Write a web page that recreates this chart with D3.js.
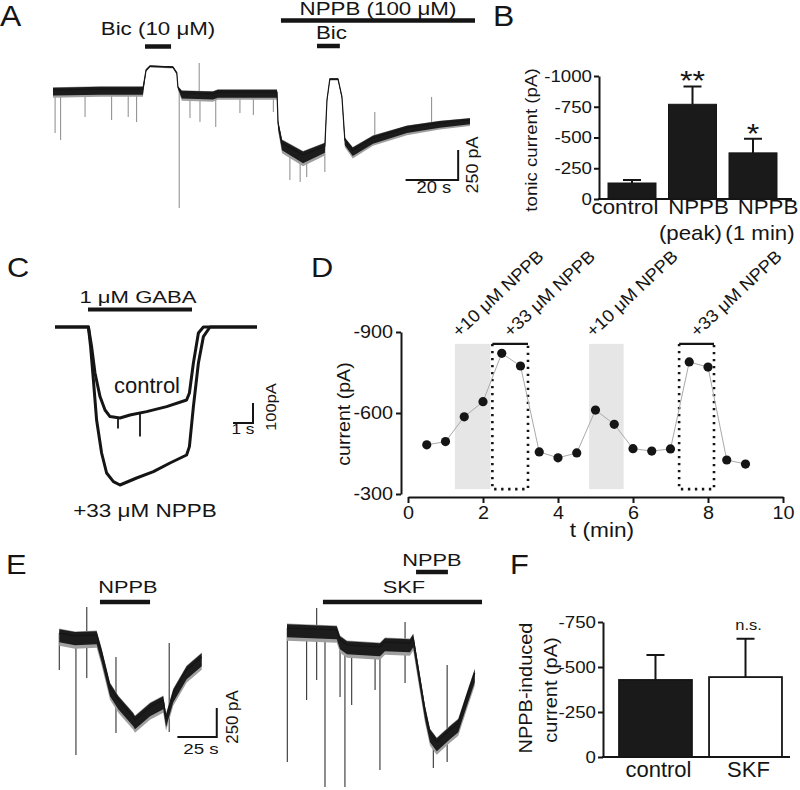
<!DOCTYPE html>
<html>
<head>
<meta charset="utf-8">
<script src="https://cdn.jsdelivr.net/npm/d3@7"></script>
<style>
  body { margin: 0; background: #fff; }
  svg text { font-family: "Liberation Sans", Arial, Helvetica, sans-serif; fill: #151515; }
</style>
</head>
<body>
<svg width="800" height="790"></svg>
<script>
// ---- panel A : whole-cell trace (time s, current pA, noise half-width pA)
const aTime    = [0, 17.9, 34.2, 35.4, 36.9, 45.6, 47.1, 47.5, 49, 60.8, 62.7, 85.2, 85.6, 87.1, 95.1, 103.4, 104.2, 105.3, 108.4, 109.9, 111, 114, 121.7, 134.6, 147.1, 158.6]
const aCurrent = [0, 8, 8, 167, 200, 192, 142, 25, -25, -33, -17, -17, -275, -441, -541, -466, -83, 92, 92, -58, -416, -500, -400, -316, -275, -250]
const aNoise   = [65, 65, 65, 15, 12, 12, 15, 20, 65, 65, 65, 65, 65, 85, 95, 80, 20, 12, 12, 20, 60, 70, 65, 60, 55, 50]
// spikes: [time, from pA, to pA]
const aSpikes = [[0.8, 0, -358], [2.9, 0, -416], [12.2, 0, -225], [22.3, 0, -250], [28.6, 0, -225], [31.8, 0, -267],
  [48, 0, -983], [52.1, -25, -233], [55.6, -25, 225], [55.9, -25, -266], [61.9, -33, -308], [71.1, -17, -192],
  [76.2, -17, -208], [83.8, -17, -183], [90.1, -500, -750], [94, -540, -766], [96.5, -540, -725],
  [103.4, -466, -683], [122.4, -400, -183], [144, -280, -58]]
const aBic1 = [35, 44.9]
const aNppb = [86.7, 160.5]
const aBic2 = [100.4, 109.1]

// ---- panel B : tonic current
const bCats  = ['control', 'NPPB\n(peak)', 'NPPB\n(1 min)']
const bMean  = [-130, -770, -375]
const bSem   = [25, 145, 115]
const bStars = ['', '**', '*']
const bTicks = [0, -250, -500, -750, -1000]

// ---- panel C : GABA responses (time s, current pA)
const cCtrlTime    = [0, 1.67, 1.83, 2.0, 2.25, 2.5, 2.75, 3.25, 3.75, 4.58, 5.58, 6.58, 6.72, 6.92, 7.17, 7.42, 10.1]
const cCtrlCurrent = [0, 0, -98, -230, -348, -415, -448, -455, -440, -423, -398, -365, -330, -180, -30, 0, 0]
const cCtrlSpikes  = [[3.15, -452, -507], [4.25, -432, -548]]
const cNppbTime    = [0, 1.67, 1.78, 1.92, 2.08, 2.33, 2.58, 2.92, 3.25, 4.08, 4.92, 5.75, 6.58, 6.72, 6.92, 7.17, 7.42, 7.75, 10.1]
const cNppbCurrent = [0, 0, -98, -265, -465, -630, -730, -773, -790, -755, -723, -680, -640, -598, -398, -180, -48, 0, 0]
const cGaba = [1.65, 6.85]

// ---- panel D : time course
const dTime    = [0.5, 1, 1.5, 2, 2.5, 3, 3.5, 4, 4.5, 5, 5.5, 6, 6.5, 7, 7.5, 8, 8.5, 9]
const dCurrent = [-482, -494, -586, -642, -821, -774, -456, -434, -452, -611, -558, -468, -459, -467, -789, -770, -426, -411]
const d10 = [[1.25, 2.2], [4.83, 5.75]]
const d33 = [[2.25, 3.2], [7.23, 8.16]]
const dYTicks = [-900, -600, -300]
const dXTicks = [0, 2, 4, 6, 8, 10]

// ---- panel E : NPPB with / without SKF
const eLeftTime    = [0, 10, 23.8, 27, 32.3, 37.6, 47.1, 48.2, 57.8, 66.2, 68, 72.6, 81.1, 90.7]
const eLeftCurrent = [34, 9, 17, -138, -430, -542, -688, -714, -602, -542, -697, -482, -284, -172]
const eLeftSpikes  = [[0, 34, -284], [10.6, 9, -1015], [17.5, 258, -353], [36.1, -172, -826], [70, -52, -817]]
const eRightTime    = [0, 31.7, 33.8, 38.2, 59.2, 62.4, 78.3, 80.4, 83.4, 87.9, 91.1, 95.4, 103.8, 109.1, 114.5, 119.6]
const eRightCurrent = [77, 60, -26, -69, -86, -43, -52, -9, -258, -628, -826, -903, -800, -740, -516, -310]
const eRightSpikes  = [[0.2, 77, -1075], [12.5, 60, -542], [18.9, 249, -370], [24.2, 60, -1290], [33.8, -26, -516],
  [36.9, -60, -1290], [41.2, -69, -585], [56.1, -86, -456], [59.2, -86, -1144], [75.2, 129, -396],
  [93.2, -870, -1127], [102, -241, -1075]]
const eLeftNppb  = [25.9, 57.8]
const eRightSkf  = [22.9, 124.2]
const eRightNppb = [82.2, 102.5]

// ---- panel F : NPPB-induced current
const fCats  = ['control', 'SKF']
const fMean  = [-428, -444]
const fSem   = [139, 213]
const fNote  = ['', 'n.s.']
const fTicks = [0, -250, -500, -750]

const svg = d3.select('svg')
const ink = '#151515'

const stretchText = (t, k) => {
  const w = t.node().getComputedTextLength()
  t.attr('textLength', w * k).attr('lengthAdjust', 'spacingAndGlyphs')
}

const txt = (g, x, y, s, size, o = {}) => {
  const t = g.append('text').attr('x', x).attr('y', y).attr('font-size', size).text(s)
  if (o.anchor) t.attr('text-anchor', o.anchor)
  if (o.rotate != null) t.attr('transform', `rotate(${o.rotate},${x},${y})`)
  if (o.stretch) stretchText(t, o.stretch)
  return t
}

const bar = (g, x1, x2, y, w = 4.5) =>
  g.append('line').attr('x1', x1).attr('x2', x2).attr('y1', y).attr('y2', y)
    .attr('stroke', ink).attr('stroke-width', w)

// noisy trace: grey fringe, dark core, thin centre line
const drawTrace = (g, x, y, ts, vs, noise, width) => {
  const pts = ts.map((t, i) => [t, vs[i], noise ? noise[i] : 0])
  if (noise) {
    g.append('path')
      .attr('d', d3.area().x(d => x(d[0])).y0(d => y(d[1] - d[2])).y1(d => y(d[1] + d[2] * 0.35))(pts))
      .attr('fill', '#a0a0a0')
    g.append('path')
      .attr('d', d3.area().x(d => x(d[0])).y0(d => y(d[1] - d[2] * 0.72)).y1(d => y(d[1] + d[2] * 0.3))(pts))
      .attr('fill', '#1c1c1c')
  }
  g.append('path')
    .attr('d', d3.line().x(d => x(d[0])).y(d => y(d[1]))(pts))
    .attr('fill', 'none').attr('stroke', ink).attr('stroke-width', width)
    .attr('stroke-linejoin', 'round')
}

const drawSpikes = (g, x, y, spikes, color, w = 1) =>
  g.append('g').selectAll('line').data(spikes).join('line')
    .attr('x1', d => x(d[0])).attr('x2', d => x(d[0]))
    .attr('y1', d => y(d[1])).attr('y2', d => y(d[2]))
    .attr('stroke', color).attr('stroke-width', w)

const styleAxis = (g, size, k = 1.1) => {
  g.attr('font-size', size)
  g.select('.domain').attr('stroke', ink).attr('stroke-width', 2)
  g.selectAll('.tick line').attr('stroke', ink).attr('stroke-width', 2)
  g.selectAll('.tick text').attr('fill', ink).each(function () { stretchText(d3.select(this), k) })
}

// panel letters
txt(svg, 0, 26, 'A', 29, {stretch: 1.1})
txt(svg, 493, 26, 'B', 29, {stretch: 1.1})
txt(svg, 7, 277, 'C', 28, {stretch: 1.1})
txt(svg, 311, 277, 'D', 28, {stretch: 1.1})
txt(svg, 6, 574, 'E', 28, {stretch: 1.1})
txt(svg, 510, 574, 'F', 28, {stretch: 1.1})

// ================= A
{
  const g = svg.append('g')
  const x = d3.scaleLinear().domain([0, 158.6]).range([53, 470])
  const y = d3.scaleLinear().domain([-1000, 300]).range([90 + 1000 / 8.33, 90 - 300 / 8.33])
  drawSpikes(g, x, y, aSpikes, '#8a8a8a', 1)
  drawTrace(g, x, y, aTime, aCurrent, aNoise, 1.2)

  bar(g, x(aBic1[0]), x(aBic1[1]), 46.5)
  txt(g, x((aBic1[0] + aBic1[1]) / 2), 35, 'Bic (10 μM)', 18, {anchor: 'middle', stretch: 1.24})
  bar(g, x(aNppb[0]), x(aNppb[1]), 20.5)
  txt(g, x((aNppb[0] + aNppb[1]) / 2), 15, 'NPPB (100 μM)', 18, {anchor: 'middle', stretch: 1.24})
  bar(g, x(aBic2[0]), x(aBic2[1]), 46)
  txt(g, x((aBic2[0] + aBic2[1]) / 2) + 3, 39, 'Bic', 18, {anchor: 'middle', stretch: 1.24})

  // scale bar 20 s / 250 pA
  g.append('path')
    .attr('d', `M${x(134.1)},${y(-750)}H${x(154.1)}V${y(-500)}`)
    .attr('fill', 'none').attr('stroke', ink).attr('stroke-width', 2)
  txt(g, x(144.1) + 2, 193, '20 s', 16, {anchor: 'middle', stretch: 1.15})
  txt(g, 478, y(-625), '250 pA', 16, {anchor: 'middle', rotate: -90, stretch: 1.12})
}

// ================= B
{
  const g = svg.append('g')
  const y = d3.scaleLinear().domain([0, -1000]).range([199, 76])
  const x = d3.scaleBand().domain(bCats).range([599, 786]).paddingInner(0.207).paddingOuter(0.149)
  const rows = bCats.map((c, i) => ({c, m: bMean[i], s: bSem[i], star: bStars[i]}))

  g.selectAll('rect').data(rows).join('rect')
    .attr('x', d => x(d.c)).attr('width', x.bandwidth())
    .attr('y', d => y(d.m)).attr('height', d => y(0) - y(d.m))
    .attr('fill', '#1a1a1a').attr('stroke', ink).attr('stroke-width', 1)
  g.selectAll('.err').data(rows).join('path').attr('class', 'err')
    .attr('d', d => {
      const cx = x(d.c) + x.bandwidth() / 2
      return `M${cx},${y(d.m)}V${y(d.m - d.s)}M${cx - 9},${y(d.m - d.s)}H${cx + 9}`
    })
    .attr('stroke', ink).attr('stroke-width', 2).attr('fill', 'none')
  rows.forEach(d => {
    if (d.star) txt(g, x(d.c) + x.bandwidth() / 2, y(d.m - d.s) + 4, d.star, 28, {anchor: 'middle', stretch: 1.15})
  })

  const ax = g.append('g').attr('transform', 'translate(599,0)')
    .call(d3.axisLeft(y).tickValues(bTicks).tickSize(5).tickPadding(2).tickSizeOuter(0).tickFormat(d => String(d)))
  styleAxis(ax, 17)
  g.append('line').attr('x1', 598).attr('x2', 792).attr('y1', 199).attr('y2', 199)
    .attr('stroke', ink).attr('stroke-width', 2)

  const lx = d3.scalePoint().domain(bCats).range([625, 764])
  bCats.forEach(c => {
    c.split('\n').forEach((line, j) => txt(g, lx(c) + (j ? -4 : 4) * (c === bCats[0] ? 0 : 1), 214 + j * 26, line, 21, {anchor: 'middle', stretch: 1.06}))
  })
  txt(g, 537, 140, 'tonic current (pA)', 17, {anchor: 'middle', rotate: -90, stretch: 1.1})
}

// ================= C
{
  const g = svg.append('g')
  const x = d3.scaleLinear().domain([0, 10.1]).range([55, 257])
  const y = d3.scaleLinear().domain([-900, 100]).range([327 + 180, 327 - 20])
  drawTrace(g, x, y, cNppbTime, cNppbCurrent, null, 3)
  drawTrace(g, x, y, cCtrlTime, cCtrlCurrent, null, 3)
  drawSpikes(g, x, y, cCtrlSpikes, ink, 1.8)

  bar(g, x(cGaba[0]), x(cGaba[1]), 309.5, 4)
  txt(g, x((cGaba[0] + cGaba[1]) / 2) - 2, 303, '1 μM GABA', 17, {anchor: 'middle', stretch: 1.3})
  txt(g, 147, 393, 'control', 22, {anchor: 'middle'})
  txt(g, 145, 517, '+33 μM NPPB', 18, {anchor: 'middle', stretch: 1.25})

  g.append('path')
    .attr('d', `M${x(8.9)},${y(-480)}H${x(9.9)}V${y(-380)}`)
    .attr('fill', 'none').attr('stroke', ink).attr('stroke-width', 2)
  txt(g, x(9.4), 434, '1 s', 15, {anchor: 'middle', stretch: 1.15})
  txt(g, 276, 407, '100pA', 15, {anchor: 'middle', rotate: -90, stretch: 1.1})
}

// ================= D
{
  const g = svg.append('g')
  const x = d3.scaleLinear().domain([0, 10]).range([408, 783])
  const y = d3.scaleLinear().domain([-300, -900]).range([494, 332])
  const top = y(-856), bot = y(-318)

  g.selectAll('.shade').data(d10).join('rect').attr('class', 'shade')
    .attr('x', d => x(d[0])).attr('width', d => x(d[1]) - x(d[0]))
    .attr('y', top).attr('height', bot - top).attr('fill', '#e6e6e6')
  g.selectAll('.box').data(d33).join('path').attr('class', 'box')
    .attr('d', d => `M${x(d[0])},${top}V${bot}H${x(d[1])}V${top}`)
    .attr('fill', 'none').attr('stroke', ink).attr('stroke-width', 2.6).attr('stroke-dasharray', '2.4,4.6')
  g.selectAll('.boxtop').data(d33).join('line').attr('class', 'boxtop')
    .attr('x1', d => x(d[0])).attr('x2', d => x(d[1])).attr('y1', top).attr('y2', top)
    .attr('stroke', ink).attr('stroke-width', 2.2)

  d10.forEach(d => txt(g, x(d[0]) + 4, 338, '+10 μM NPPB', 17.5, {rotate: -43, stretch: 1.05}))
  d33.forEach(d => txt(g, x(d[0]) + 18, 338, '+33 μM NPPB', 17.5, {rotate: -43, stretch: 1.05}))

  const pts = dTime.map((t, i) => [t, dCurrent[i]])
  g.append('path').attr('d', d3.line().x(d => x(d[0])).y(d => y(d[1]))(pts))
    .attr('fill', 'none').attr('stroke', '#aaa').attr('stroke-width', 1)
  g.selectAll('circle').data(pts).join('circle')
    .attr('cx', d => x(d[0])).attr('cy', d => y(d[1])).attr('r', 4.6).attr('fill', ink)

  const ay = g.append('g').attr('transform', 'translate(401,0)')
    .call(d3.axisLeft(y).tickValues(dYTicks).tickSize(5).tickPadding(3).tickSizeOuter(0).tickFormat(d => String(d)))
  styleAxis(ay, 18)
  const axx = g.append('g').attr('transform', 'translate(0,497)')
    .call(d3.axisBottom(x).tickValues(dXTicks).tickSize(6).tickPadding(3).tickSizeOuter(0))
  styleAxis(axx, 18)
  txt(g, 602, 537, 't (min)', 21, {anchor: 'middle', stretch: 1.08})
  txt(g, 350, 414, 'current (pA)', 19, {anchor: 'middle', rotate: -90, stretch: 1.03})
}

// ================= E
{
  const g = svg.append('g')
  const y = d3.scaleLinear().domain([-1500, 500]).range([637 + 1500 / 8.6, 637 - 500 / 8.6])
  const xl = d3.scaleLinear().domain([0, 91]).range([59.3, 59.3 + 91 * 1.57])
  const xr = d3.scaleLinear().domain([0, 120]).range([287, 287 + 120 * 1.57])
  const band = n => n.map(() => 110)

  drawSpikes(g, xl, y, eLeftSpikes, '#333', 1.1)
  drawTrace(g, xl, y, eLeftTime, eLeftCurrent, band(eLeftTime), 1.2)
  drawSpikes(g, xr, y, eRightSpikes, '#333', 1.1)
  drawTrace(g, xr, y, eRightTime, eRightCurrent, band(eRightTime), 1.2)

  bar(g, xl(eLeftNppb[0]), xl(eLeftNppb[1]), 602)
  txt(g, xl((eLeftNppb[0] + eLeftNppb[1]) / 2) + 3, 593, 'NPPB', 17, {anchor: 'middle', stretch: 1.28})
  bar(g, xr(eRightSkf[0]), xr(eRightSkf[1]), 602)
  txt(g, 404, 593, 'SKF', 17, {anchor: 'middle', stretch: 1.28})
  bar(g, xr(eRightNppb[0]), xr(eRightNppb[1]), 572)
  txt(g, xr((eRightNppb[0] + eRightNppb[1]) / 2), 566, 'NPPB', 17, {anchor: 'middle', stretch: 1.28})

  g.append('path')
    .attr('d', `M${xl(75.2)},${y(-860)}H${xl(100.3)}V${y(-610)}`)
    .attr('fill', 'none').attr('stroke', ink).attr('stroke-width', 2)
  txt(g, xl(87.7) + 4, 754, '25 s', 15, {anchor: 'middle', stretch: 1.25})
  txt(g, 238, 717, '250 pA', 16, {anchor: 'middle', rotate: -90, stretch: 1.05})
}

// ================= F
{
  const g = svg.append('g')
  const y = d3.scaleLinear().domain([0, -750]).range([757, 622])
  const x = d3.scaleBand().domain(fCats).range([603, 798]).paddingInner(0.19).paddingOuter(0.178)
  const rows = fCats.map((c, i) => ({c, m: fMean[i], s: fSem[i], note: fNote[i], i}))

  g.selectAll('.err').data(rows).join('path').attr('class', 'err')
    .attr('d', d => {
      const cx = x(d.c) + x.bandwidth() / 2
      return `M${cx},${y(d.m)}V${y(d.m - d.s)}M${cx - 9},${y(d.m - d.s)}H${cx + 9}`
    })
    .attr('stroke', ink).attr('stroke-width', 2).attr('fill', 'none')
  g.selectAll('rect').data(rows).join('rect')
    .attr('x', d => x(d.c)).attr('width', x.bandwidth())
    .attr('y', d => y(d.m)).attr('height', d => y(0) - y(d.m))
    .attr('fill', d => d.i === 0 ? '#1a1a1a' : '#fff').attr('stroke', ink).attr('stroke-width', 1.8)
  rows.forEach(d => {
    if (d.note) txt(g, x(d.c) + x.bandwidth() / 2 + 3, 630, d.note, 15, {anchor: 'middle', stretch: 1.1})
  })

  const ax = g.append('g').attr('transform', 'translate(603,0)')
    .call(d3.axisLeft(y).tickValues(fTicks).tickSize(5).tickPadding(2).tickSizeOuter(0).tickFormat(d => String(d)))
  styleAxis(ax, 17)
  g.append('line').attr('x1', 602).attr('x2', 790).attr('y1', 757).attr('y2', 757)
    .attr('stroke', ink).attr('stroke-width', 2)
  fCats.forEach(c => txt(g, x(c) + x.bandwidth() / 2 + 3, 777, c, 22, {anchor: 'middle'}))
  txt(g, 532, 688, 'NPPB-induced', 19, {anchor: 'middle', rotate: -90, stretch: 1.05})
  txt(g, 557, 690, 'current (pA)', 19, {anchor: 'middle', rotate: -90, stretch: 1.05})
}
</script>
</body>
</html>
